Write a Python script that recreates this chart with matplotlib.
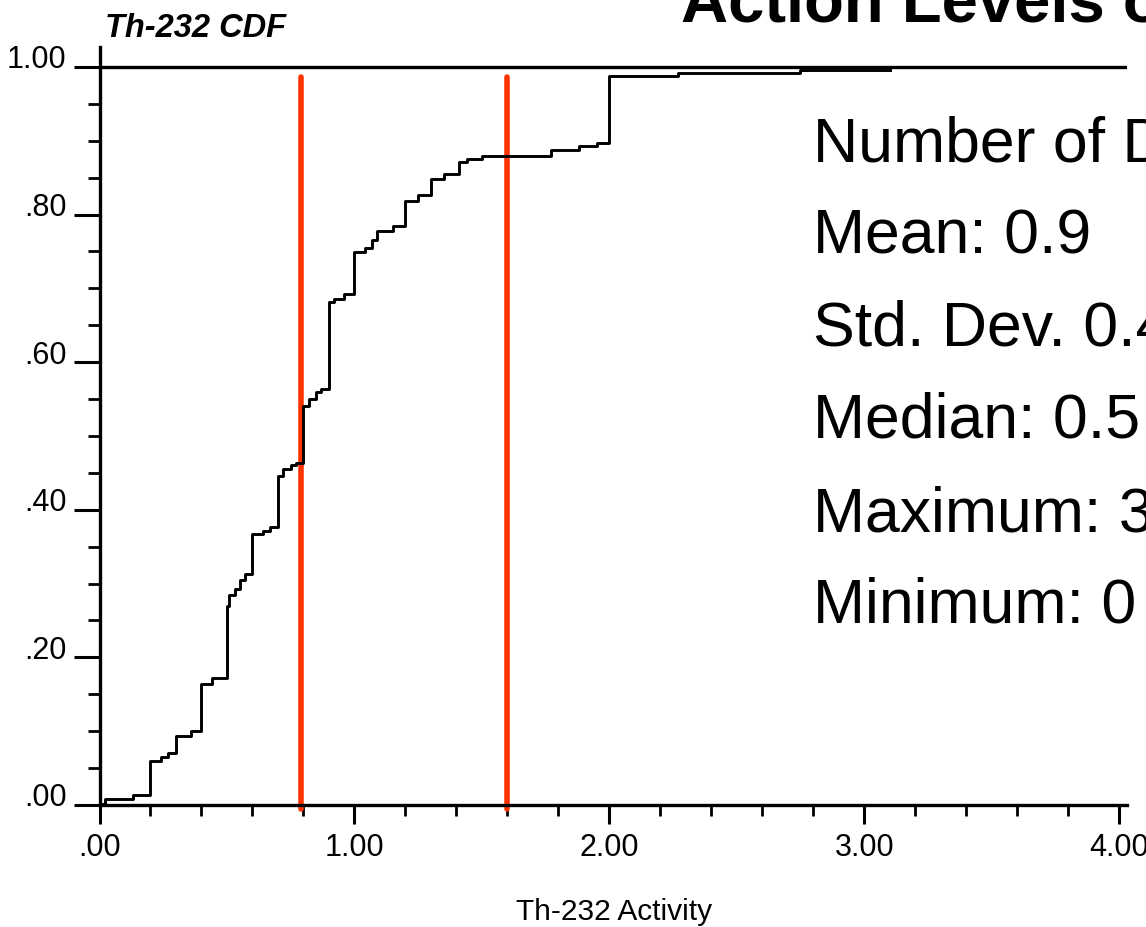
import matplotlib
matplotlib.use("Agg")
import matplotlib.pyplot as plt
from matplotlib.ticker import MultipleLocator, FixedLocator
from matplotlib.transforms import ScaledTranslation

# step positions of the Th-232 CDF and the level reached at each step
step_x = [0.00, 0.02, 0.13, 0.20, 0.24, 0.27, 0.30, 0.36, 0.40, 0.44,
          0.50, 0.51, 0.53, 0.55, 0.57, 0.60, 0.64, 0.67, 0.70, 0.72,
          0.75, 0.77, 0.80, 0.82, 0.85, 0.87, 0.90, 0.92, 0.96, 1.00,
          1.04, 1.07, 1.09, 1.15, 1.20, 1.25, 1.30, 1.35, 1.41, 1.44,
          1.50, 1.77, 1.88, 1.95, 2.00, 2.27, 2.75, 3.10]
cdf_y = [0.001, 0.008, 0.013, 0.059, 0.065, 0.070, 0.094, 0.100, 0.164, 0.172,
         0.270, 0.285, 0.293, 0.305, 0.313, 0.367, 0.371, 0.376, 0.446, 0.455,
         0.461, 0.464, 0.541, 0.550, 0.559, 0.564, 0.681, 0.686, 0.692, 0.749,
         0.755, 0.765, 0.778, 0.784, 0.819, 0.826, 0.848, 0.855, 0.871, 0.875,
         0.879, 0.888, 0.893, 0.897, 0.988, 0.992, 0.996, 0.996]

action_levels = [0.79, 1.60]

xticks = [0.0, 1.0, 2.0, 3.0, 4.0]
xtick_labels = [".00", "1.00", "2.00", "3.00", "4.00"]
yticks = [0.0, 0.2, 0.4, 0.6, 0.8, 1.0]
ytick_labels = [".00", ".20", ".40", ".60", ".80", "1.00"]

stats = ["Number of Data: 60", "Mean: 0.9", "Std. Dev. 0.4",
         "Median: 0.5", "Maximum: 3.1", "Minimum: 0"]

W, H = 1146, 928
fig = plt.figure(figsize=(W / 100, H / 100), dpi=100)
fig.patch.set_facecolor("white")

# axes box in pixels: left 99.5, right 1127, bottom 806, top 48
ax = fig.add_axes([99.5 / W, 1 - 806 / H, (1127 - 99.5) / W, (806 - 48) / H])
ax.set_xlim(0, 4.031)
ax.set_ylim(0, 1.027)

# action level lines
for a in action_levels:
    ax.plot([a, a], [-0.006, 0.987], color="#ff3300", lw=4.0,
            solid_capstyle="round", clip_on=False, zorder=2)

ax.axhline(1.0, color="black", lw=2.4, zorder=3)
ax.step(step_x, cdf_y, where="post", color="black", lw=2.1, zorder=4)

for s in ["top", "right"]:
    ax.spines[s].set_visible(False)
for s in ["left", "bottom"]:
    ax.spines[s].set_linewidth(2.4)

tick_font = dict(family=["Liberation Sans Narrow", "Liberation Sans", "DejaVu Sans"], size=22)

ax.xaxis.set_major_locator(FixedLocator(xticks))
ax.set_xticklabels(xtick_labels, **tick_font)
ax.xaxis.set_minor_locator(MultipleLocator(0.2))
ax.yaxis.set_major_locator(FixedLocator(yticks))
ax.set_yticklabels(ytick_labels, **tick_font)
ax.yaxis.set_minor_locator(MultipleLocator(0.05))

ax.tick_params(axis="x", which="major", direction="out", length=13.7, width=2.2, pad=6)
ax.tick_params(axis="x", which="minor", direction="out", length=7.9, width=2.0)
ax.tick_params(axis="y", which="major", direction="out", length=18.7, width=2.2, pad=5)
ax.tick_params(axis="y", which="minor", direction="out", length=8.6, width=2.0)

# y labels sit just above their ticks
shift = ScaledTranslation(0, 0.11, fig.dpi_scale_trans)
for lab in ax.get_yticklabels():
    lab.set_transform(lab.get_transform() + shift)

fig.text(614 / W, 1 - 912 / H, "Th-232 Activity", ha="center", va="center",
         family=["Liberation Sans", "DejaVu Sans"], size=21.5)
fig.text(105 / W, 1 - 37 / H, "Th-232 CDF", ha="left", va="baseline",
         family=["Liberation Sans", "DejaVu Sans"], size=23.5,
         weight="bold", style="italic")

fig.text(681 / W, 1 - 21 / H, "Action Levels of Th-232", ha="left", va="baseline",
         family=["Liberation Sans", "DejaVu Sans"], size=47, weight="bold")

baselines = [161, 253, 346, 438, 531, 623]
for txt, b in zip(stats, baselines):
    fig.text(813 / W, 1 - b / H, txt, ha="left", va="baseline",
             family=["Liberation Sans", "DejaVu Sans"], size=45)

fig.savefig("out.png", dpi=100, facecolor="white")
